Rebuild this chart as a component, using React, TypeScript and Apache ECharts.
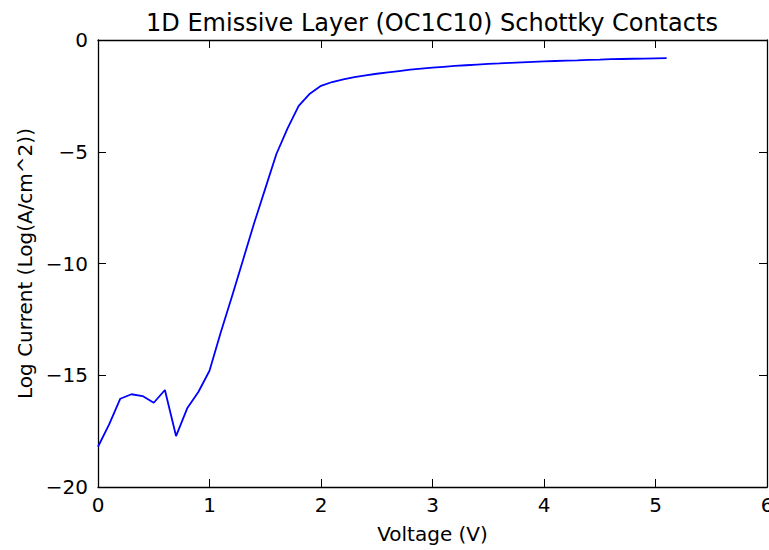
import React, { useEffect, useRef } from "react";
import * as echarts from "echarts";

const titleText = "1D Emissive Layer (OC1C10) Schottky Contacts";
const xLabel = "Voltage (V)";
const yLabel = "Log Current (Log(A/cm^2))";

const voltage = [
  0.0, 0.1, 0.2, 0.3, 0.4, 0.5, 0.6, 0.7, 0.8, 0.9,
  1.0, 1.1, 1.2, 1.3, 1.4, 1.5, 1.6, 1.7, 1.8, 1.9,
  2.0, 2.1, 2.2, 2.3, 2.4, 2.5, 2.6, 2.7, 2.8, 2.9,
  3.0, 3.1, 3.2, 3.3, 3.4, 3.5, 3.6, 3.7, 3.8, 3.9,
  4.0, 4.1, 4.2, 4.3, 4.4, 4.5, 4.6, 4.7, 4.8, 4.9,
  5.0, 5.1,
];
const logCurrent = [
  -18.2, -17.2, -16.05, -15.85, -15.93, -16.23, -15.66, -17.72, -16.48, -15.75,
  -14.8, -13.1, -11.5, -9.85, -8.2, -6.65, -5.1, -3.95, -2.95, -2.4,
  -2.05, -1.88, -1.76, -1.66, -1.58, -1.51, -1.45, -1.39, -1.33, -1.28,
  -1.24, -1.2, -1.16, -1.13, -1.1, -1.07, -1.05, -1.02, -1.0, -0.98,
  -0.96, -0.94, -0.92, -0.91, -0.89, -0.88, -0.86, -0.85, -0.84, -0.83,
  -0.82, -0.81,
];

const xTicks = { min: 0, max: 6, interval: 1 };
const yTicks = { min: -20, max: 0, interval: 5 };

const FONT = "DejaVu Sans";

export default function App() {
  const ref = useRef<HTMLDivElement>(null);
  useEffect(() => {
    document.body.style.margin = "0";
    if (!ref.current) return;
    const chart = echarts.init(ref.current, null, { renderer: "svg" });
    const fmt = (v: number) => String(v).replace("-", "\u2212");
    const axisLine = { show: true, onZero: false, lineStyle: { color: "#000", width: 1.3 } };
    const axisTick = { show: true, inside: true, length: 8, lineStyle: { color: "#000", width: 1 } };
    const labelStyle = { color: "#000", fontFamily: FONT, fontSize: 20 };
    chart.setOption({
      animation: false,
      backgroundColor: "#fff",
      title: {
        text: titleText,
        left: 427,
        top: 6,
        textAlign: "center",
        textStyle: { fontFamily: FONT, fontSize: 24, fontWeight: "normal", color: "#000" },
      },
      grid: {
        left: 98,
        right: 2,
        top: 40,
        bottom: 63,
        containLabel: false,
        outerBoundsMode: "none",
      },
      xAxis: [
        {
          type: "value",
          position: "bottom",
          ...xTicks,
          axisLine,
          axisTick,
          splitLine: { show: false },
          axisLabel: { ...labelStyle, margin: 8, formatter: fmt },
          name: xLabel,
          nameLocation: "middle",
          nameGap: 37,
          nameTextStyle: { ...labelStyle },
        },
        {
          type: "value",
          position: "top",
          ...xTicks,
          axisLine,
          axisTick,
          splitLine: { show: false },
          axisLabel: { show: false },
        },
      ],
      yAxis: [
        {
          type: "value",
          position: "left",
          ...yTicks,
          axisLine,
          axisTick,
          splitLine: { show: false },
          axisLabel: { ...labelStyle, margin: 10, formatter: fmt },
          name: yLabel,
          nameLocation: "middle",
          nameGap: 63,
          nameRotate: 90,
          nameTextStyle: { ...labelStyle },
        },
        {
          type: "value",
          position: "right",
          ...yTicks,
          axisLine,
          axisTick,
          splitLine: { show: false },
          axisLabel: { show: false },
        },
      ],
      series: [
        {
          type: "line",
          data: voltage.map((v, i) => [v, logCurrent[i]]),
          showSymbol: false,
          symbol: "none",
          lineStyle: { color: "#0000ff", width: 1.8 },
          xAxisIndex: 0,
          yAxisIndex: 0,
        },
      ],
    });
    return () => chart.dispose();
  }, []);
  return <div ref={ref} style={{ width: 769, height: 550 }} />;
}
